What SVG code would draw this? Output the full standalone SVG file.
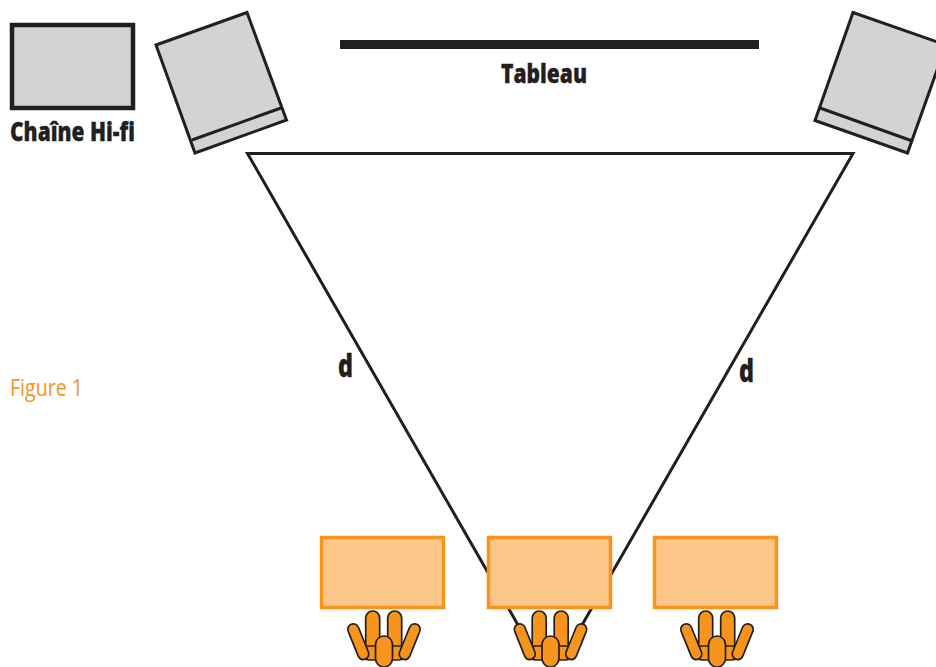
<svg xmlns="http://www.w3.org/2000/svg" width="936" height="667" viewBox="0 0 936 667">
<style>
.t{font-family:"Open Sans","Liberation Sans",sans-serif;font-weight:800;fill:#231f20;stroke:#231f20;stroke-width:.3}
.sp{fill:#d1d3d4;stroke:#231f20;stroke-width:3;stroke-linejoin:miter}
.desk{fill:#fdc689;stroke:#f7941d;stroke-width:3.500}
.p{fill:#f7941d;stroke:#231f20;stroke-width:1.700}
.c{fill:none;stroke:#231f20;stroke-width:3;stroke-linejoin:miter}
</style>
<defs>
<g id="person">
<rect class="p" x="-18.300" y="-25" width="14" height="48" rx="7"/>
<rect class="p" x="3.700" y="-25" width="14" height="48" rx="7"/>
<rect class="p" x="-22" y="10" width="44" height="14" rx="7"/>
<rect class="p" x="-5.500" y="-5.500" width="11" height="37.700" rx="5.500" transform="translate(-30.700,-6.700) rotate(-22)"/>
<rect class="p" x="-5.500" y="-5.500" width="11" height="37.700" rx="5.500" transform="translate(30.700,-6.700) rotate(22)"/>
<rect class="p" x="-8.500" y="0" width="17" height="31" rx="8.500"/>
</g>
</defs>
<rect width="936" height="667" fill="#fff"/>
<g id="connectors">
<path class="c" d="M522 632 L247.500 153.500 H853 L578 632"/>
</g>
<g id="chaine">
<rect x="12" y="25" width="121" height="83" fill="#d1d3d4" stroke="#231f20" stroke-width="4.500"/>
<text class="t" x="10" y="141" font-size="26" textLength="125" lengthAdjust="spacingAndGlyphs">Chaîne Hi-fi</text>
</g>
<g id="enceinte-gauche">
<path class="sp" d="M156 45 L247 12.500 L286.500 120 L195 153 Z"/>
<path class="sp" d="M192 140 L281 108" fill="none"/>
</g>
<g id="enceinte-droite">
<path class="sp" d="M853 12.500 L946 45 L907.500 153 L815 120.500 Z"/>
<path class="sp" d="M820 108 L911 140.500" fill="none"/>
</g>
<g id="tableau">
<rect x="340" y="40" width="419" height="9" fill="#231f20"/>
<text class="t" x="501" y="83" font-size="26" textLength="86" lengthAdjust="spacingAndGlyphs">Tableau</text>
</g>
<text class="t" x="338" y="377" font-size="31" textLength="15" lengthAdjust="spacingAndGlyphs">d</text>
<text class="t" x="739" y="382" font-size="31" textLength="15" lengthAdjust="spacingAndGlyphs">d</text>
<text x="10" y="396" font-family="'Open Sans','Liberation Sans',sans-serif" font-size="24" fill="#f7941d" textLength="73" lengthAdjust="spacingAndGlyphs">Figure 1</text>
<g id="poste-1">
<rect class="desk" x="321.500" y="537.500" width="122" height="70"/>
<use href="#person" x="384" y="636"/>
</g>
<g id="poste-2">
<rect class="desk" x="488.500" y="537.500" width="122" height="70"/>
<use href="#person" x="550.500" y="636"/>
</g>
<g id="poste-3">
<rect class="desk" x="654.500" y="537.500" width="122" height="70"/>
<use href="#person" x="717" y="636"/>
</g>
</svg>
